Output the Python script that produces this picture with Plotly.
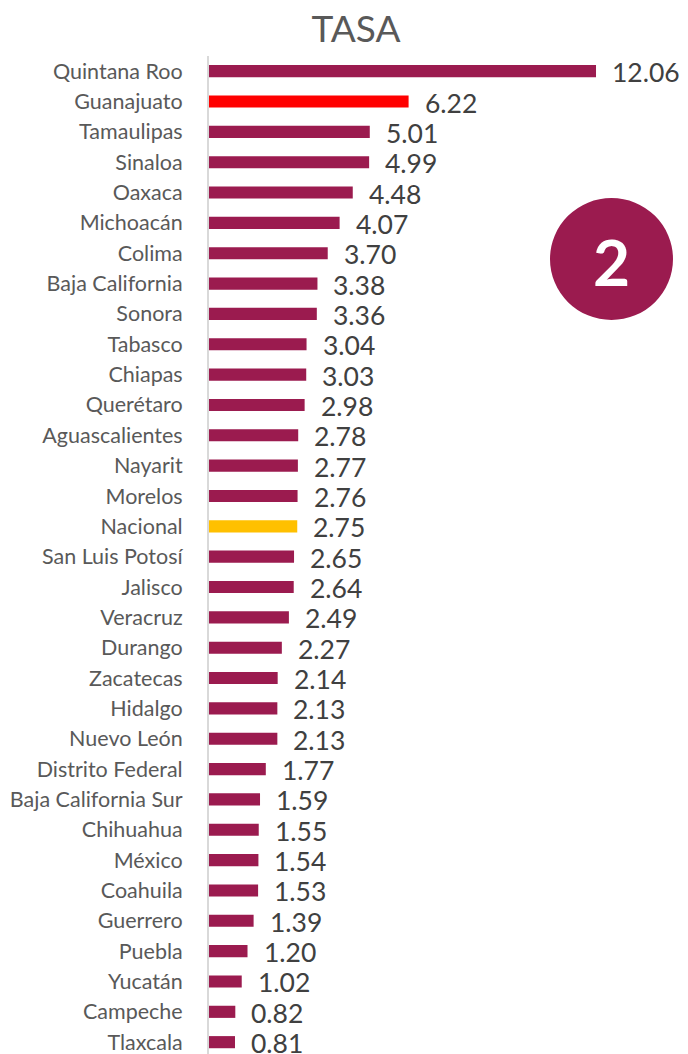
import plotly.graph_objects as go

states = ["Quintana Roo", "Guanajuato", "Tamaulipas", "Sinaloa", "Oaxaca", "Michoacán",
          "Colima", "Baja California", "Sonora", "Tabasco", "Chiapas", "Querétaro",
          "Aguascalientes", "Nayarit", "Morelos", "Nacional", "San Luis Potosí", "Jalisco",
          "Veracruz", "Durango", "Zacatecas", "Hidalgo", "Nuevo León", "Distrito Federal",
          "Baja California Sur", "Chihuahua", "México", "Coahuila", "Guerrero", "Puebla",
          "Yucatán", "Campeche", "Tlaxcala"]
tasa = [12.06, 6.22, 5.01, 4.99, 4.48, 4.07, 3.70, 3.38, 3.36, 3.04, 3.03, 2.98,
        2.78, 2.77, 2.76, 2.75, 2.65, 2.64, 2.49, 2.27, 2.14, 2.13, 2.13, 1.77,
        1.59, 1.55, 1.54, 1.53, 1.39, 1.20, 1.02, 0.82, 0.81]

BASE = "#9B1B4F"
highlight = {"Guanajuato": "#FF0000", "Nacional": "#FFC000"}
colors = [highlight.get(s, BASE) for s in states]

FONT = "Lato"
W, H = 680, 1046          # page body has an 8px margin
L, T = 201, 48
PW, PH = W - L, H - T     # 479 x 998

fig = go.Figure(go.Bar(
    y=states, x=tasa, orientation="h",
    marker=dict(color=colors, line=dict(width=0)),
    width=0.4,
    hoverinfo="skip",
))

for s, v in zip(states, tasa):
    fig.add_annotation(x=v, y=s, xref="x", yref="y", text=f"{v:.2f}",
                       showarrow=False, xanchor="left", yanchor="middle",
                       xshift=14, yshift=-1,
                       font=dict(family=FONT, size=26.5, color="#404040"))

# badge (positions in page pixels converted to paper coords)
def px(xp):
    return (xp - 8 - L) / PW

def py(yp):
    return 1 - (yp - 8 - T) / PH

fig.add_shape(type="circle", xref="paper", yref="paper",
              x0=px(550), x1=px(673), y0=py(320), y1=py(198),
              fillcolor=BASE, line=dict(width=0), layer="above")
fig.add_annotation(xref="paper", yref="paper", x=px(611.5), y=py(262),
                   text="<b>2</b>", showarrow=False,
                   font=dict(family=FONT, size=64, color="white"),
                   xanchor="center", yanchor="middle")

fig.update_layout(
    width=W, height=H,
    margin=dict(l=L, r=0, t=T, b=0, autoexpand=False),
    paper_bgcolor="white", plot_bgcolor="white",
    showlegend=False,
    title=dict(text="TASA", x=(356 - 8) / W, xanchor="center",
               y=1 - (29 - 8) / H, yanchor="middle",
               font=dict(family=FONT, size=37, color="#595959")),
    xaxis=dict(range=[0, PW / 32.09], visible=False, showgrid=False, zeroline=False,
               automargin=False),
    yaxis=dict(type="category", range=[32.39, -0.5], showgrid=False, zeroline=False,
               showline=True, linecolor="#D9D9D9", linewidth=2, automargin=False,
               ticks="", ticklabelstandoff=20,
               tickfont=dict(family=FONT, size=21.5, color="#595959")),
)

fig.write_html("out.html")
